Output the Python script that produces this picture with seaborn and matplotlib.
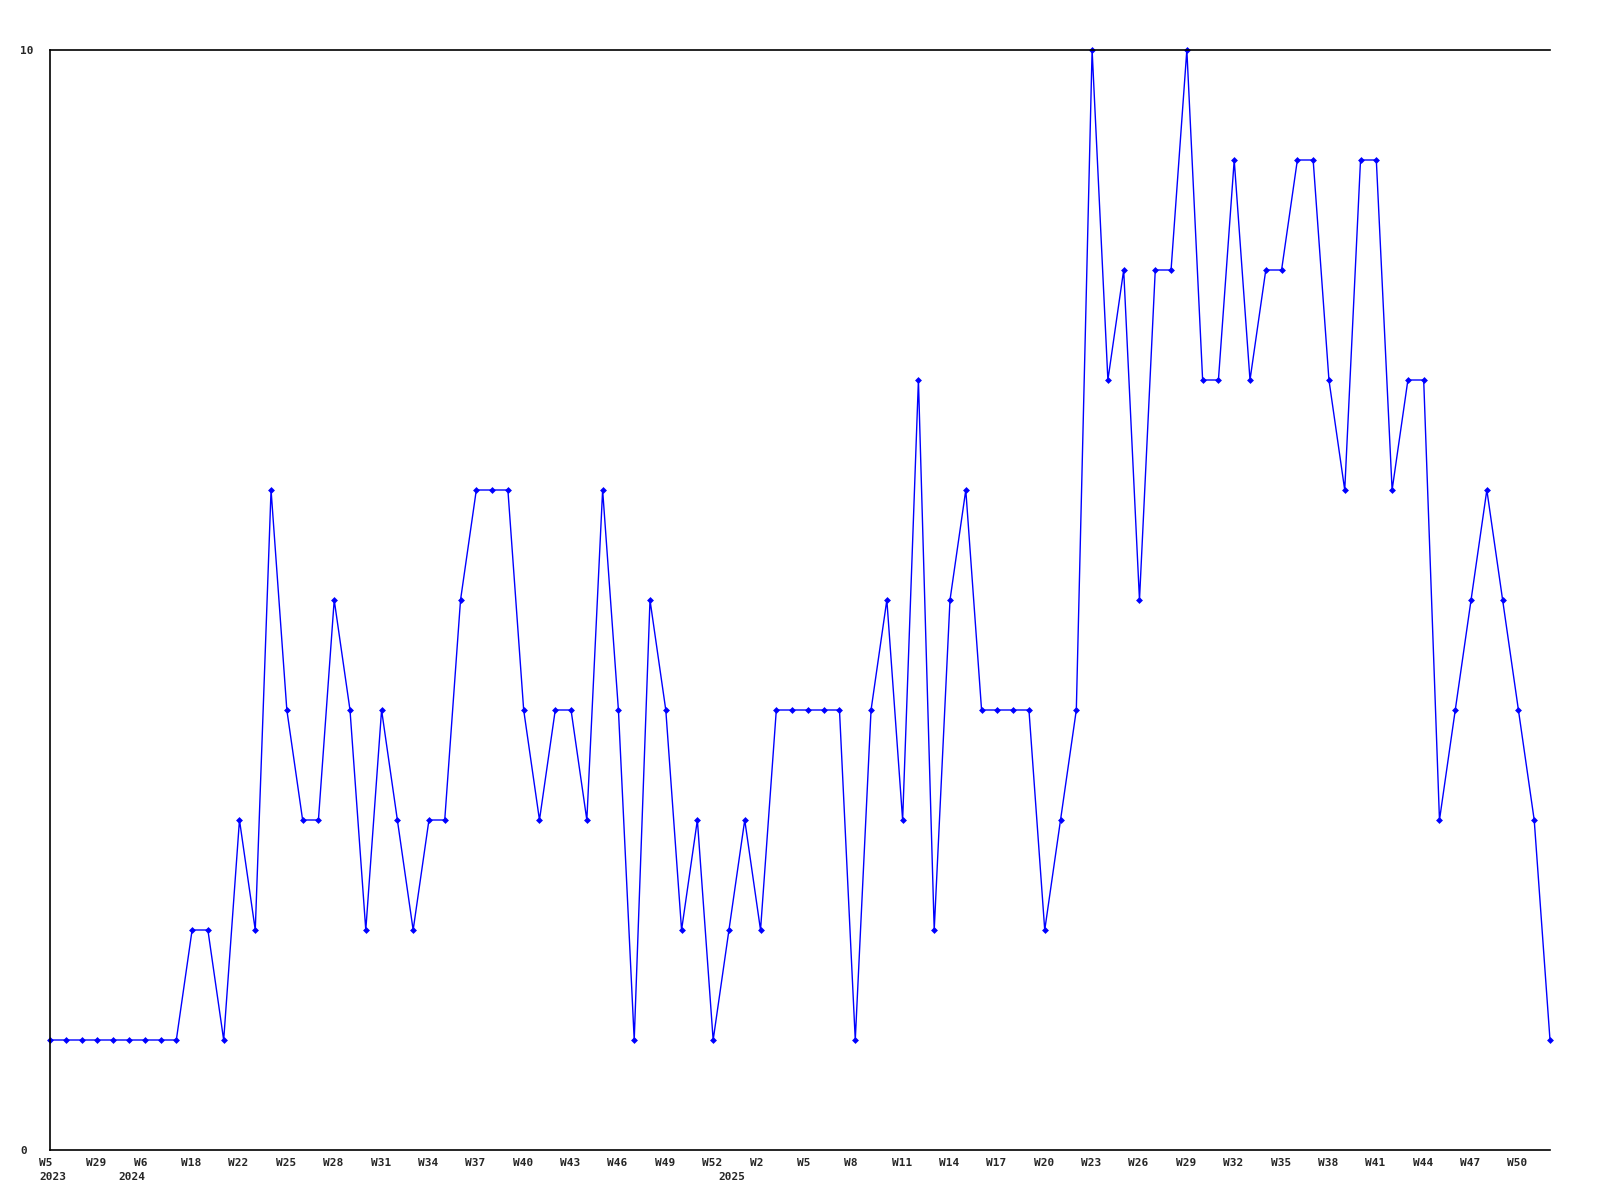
import matplotlib
matplotlib.use('Agg')
import matplotlib.pyplot as plt
import matplotlib.transforms as mtransforms
import seaborn as sns
import pandas as pd

# week categories in order (gaps in 2023/early 2024 are weeks without data)
years = [2023] * 5 + [2024] * 38 + [2025] * 53
weeks = ([5, 12, 20, 29, 40]
         + [1, 6, 9, 13, 18, 19, 21] + list(range(22, 53))
         + list(range(0, 53)))

counts = [1, 1, 1, 1, 1, 1, 1, 1, 1, 2, 2, 1, 3, 2, 6, 4, 3, 3, 5, 4,
          2, 4, 3, 2, 3, 3, 5, 6, 6, 6, 4, 3, 4, 4, 3, 6, 4, 1, 5, 4,
          2, 3, 1, 2, 3, 2, 4, 4, 4, 4, 4, 1, 4, 5, 3, 7, 2, 5, 6, 4,
          4, 4, 4, 2, 3, 4, 10, 7, 8, 5, 8, 8, 10, 7, 7, 9, 7, 8, 8, 9,
          9, 7, 6, 9, 9, 6, 7, 7, 3, 4, 5, 6, 5, 4, 3, 1]

df = pd.DataFrame({'year': years, 'week': weeks, 'count': counts})
df['idx'] = range(len(df))

sns.set_style('white')
plt.rcParams['font.family'] = ['DejaVu Sans Mono', 'DejaVu Sans']

fig = plt.figure(figsize=(16, 12), dpi=100)
ax = fig.add_axes([50 / 1600, 50 / 1200, 1500 / 1600, 1100 / 1200])

sns.lineplot(data=df, x='idx', y='count', color='#0000ff', linewidth=1.0,
             marker='D', markersize=3.5, markeredgewidth=0, ax=ax, clip_on=False)

ax.set_xlim(0, len(df) - 1)
ax.set_ylim(0, 10)
ax.set_xlabel('')
ax.set_ylabel('')

for side in ['left', 'top', 'bottom']:
    ax.spines[side].set_color('black')
    ax.spines[side].set_linewidth(1.2)
ax.spines['right'].set_visible(False)
ax.tick_params(length=0)

# x labels: every third week, left aligned slightly before the point
xt = list(range(0, len(df), 3))
ax.set_xticks(xt)
ax.set_xticklabels([f"W{df['week'][i]}" for i in xt], fontsize=8, fontweight='heavy', ha='left')
shift = mtransforms.ScaledTranslation(-11 / 100, -3 / 100, fig.dpi_scale_trans)
for lbl in ax.get_xticklabels():
    lbl.set_transform(lbl.get_transform() + shift)

# year under the first week of each year
trans = mtransforms.blended_transform_factory(ax.transData, ax.transAxes)
first_of_year = df.groupby('year')['idx'].min()
for yr, i in first_of_year.items():
    t = ax.text(i, 0, str(yr), transform=trans, fontsize=8, fontweight='heavy',
                ha='left', va='top')
    t.set_transform(trans + mtransforms.ScaledTranslation(-11 / 100, -22 / 100, fig.dpi_scale_trans))

ax.set_yticks([0, 10])
ax.set_yticklabels(['0', '10'], fontsize=8, fontweight='heavy', ha='left')
yshift = mtransforms.ScaledTranslation(-25 / 100, 0, fig.dpi_scale_trans)
for lbl in ax.get_yticklabels():
    lbl.set_transform(lbl.get_transform() + yshift)

fig.savefig('out.png', dpi=100)
